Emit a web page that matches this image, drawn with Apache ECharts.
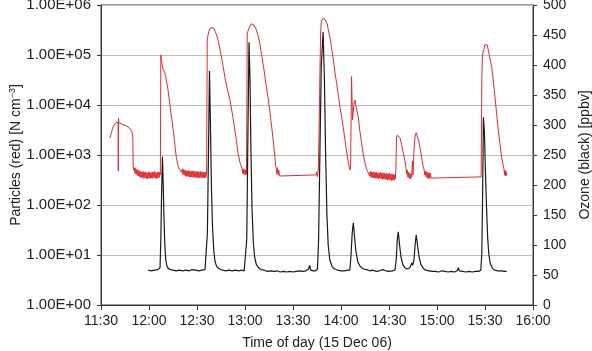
<!DOCTYPE html>
<html>
<head>
<meta charset="utf-8">
<script src="https://cdn.jsdelivr.net/npm/echarts@6/dist/echarts.min.js"></script>
<style>
html,body{margin:0;padding:0;background:#fff;}
#chart{width:592px;height:351px;}
</style>
</head>
<body>
<div id="chart"></div>
<script>
// Time axis: minutes after midnight (15 Dec 06)
const timeTicks = [690, 720, 750, 780, 810, 840, 870, 900, 930, 960];
const particleTicks = [1, 10, 100, 1000, 10000, 100000, 1000000];
const ozoneTicks = [0, 50, 100, 150, 200, 250, 300, 350, 400, 450, 500];

// Particles (red) [N cm-3]: [minute, value]
const particles = [
[695.6,2200],[696.0,2400],[696.4,2700],[696.8,3000],[697.2,3400],[697.6,3700],[698.0,3900],[698.4,4200],[698.8,4000],[699.2,4400],[699.6,4200],[700.0,4600],[700.4,4300],[700.7,4500],[700.8,480],[700.9,5400],[701.2,4400],[701.6,4700],[702.0,4300],[702.4,4600],[702.8,4200],[703.2,4500],[703.6,4100],[704.0,4400],[704.4,4000],[704.8,4300],[705.2,3900],[705.6,4200],[706.0,3800],[706.4,4100],[706.8,3700],[707.2,3900],[707.6,3500],[708.0,3700],[708.4,3300],[708.8,3400],[709.2,3000],[709.6,2600],[709.9,2200],[710.1,600],[710.4,500],
[710.8,560],[711.2,430],[711.6,540],[712.0,410],[712.4,520],[712.8,390],[713.2,500],[713.6,380],[714.0,480],[714.4,360],[714.8,470],[715.2,350],[715.6,460],[716.0,360],[716.4,470],[716.8,340],[717.2,450],[717.6,350],[718.0,460],[718.4,340],[718.8,440],[719.2,335],[719.6,450],[720.0,345],[720.4,460],[720.8,340],[721.2,440],[721.6,350],[722.0,460],[722.4,340],[722.8,450],[723.2,355],[723.6,470],[724.0,345],[724.4,440],[724.8,335],[725.2,450],[725.6,350],[726.0,460],[726.4,355],[726.8,450],[727.1,400],
[727.4,100000],[727.8,80000],[728.3,62000],[728.8,52000],[729.4,48000],[730.0,43000],[730.6,35000],[731.2,27000],[731.8,21000],[732.4,15000],[733.0,10500],[733.6,7200],[734.2,5500],[734.8,3800],[735.4,2700],[736.0,1800],[736.6,1200],[737.2,850],[737.8,680],[738.4,580],[739.0,520],[739.6,480],[740.0,510],
[740.4,450],[740.8,530],[741.2,410],[741.6,510],[742.0,395],[742.4,500],[742.8,380],[743.2,490],[743.6,370],[744.0,480],[744.4,375],[744.8,490],[745.2,365],[745.6,470],[746.0,360],[746.4,480],[746.8,365],[747.2,470],[747.6,355],[748.0,480],[748.4,365],[748.8,470],[749.2,355],[749.6,460],[750.0,350],[750.4,470],[750.8,355],[751.2,460],[751.6,350],[752.0,470],[752.4,355],[752.8,460],[753.2,350],[753.6,450],[754.0,355],[754.4,460],[754.8,345],[755.2,450],[755.6,355],[756.0,420],
[756.4,200000],[756.9,250000],[757.5,300000],[758.4,350000],[759.4,365000],[760.3,350000],[761.3,300000],[762.5,240000],[763.8,160000],[765.0,100000],[766.3,60000],[767.5,35000],[768.8,22000],[770.6,12600],[772.5,5600],[774.4,2200],[775.6,1100],[776.9,700],[778.1,540],[778.5,430],[778.9,530],[779.3,410],[779.7,510],[780.1,400],[780.5,500],[780.9,410],
[781.4,275000],[781.9,300000],[782.8,360000],[783.8,420000],[784.7,435000],[785.6,400000],[786.9,330000],[788.1,250000],[789.4,160000],[790.6,91000],[791.9,50000],[793.1,26000],[794.4,14000],[795.6,7000],[796.9,3200],[798.1,1400],[798.7,900],[799.1,620],[799.5,540],[799.9,420],[800.3,560],[800.7,400],[801.1,500],[801.5,380],[801.9,400],
[824.5,400],[824.8,460],[825.3,370],[825.8,500],[826.3,3000],[826.8,40000],[827.3,300000],[827.8,500000],[828.6,545000],[829.6,540000],[830.6,500000],[831.4,420000],[832.2,300000],[833.1,230000],[834.1,140000],[835.2,80000],[836.2,45000],[837.3,27000],[838.4,15000],[839.4,9000],[840.4,5800],[841.4,3600],[842.5,2000],[843.6,1100],[844.6,700],[845.6,500],[846.0,600],[846.6,37000],[847.2,5000],[847.6,7000],[848.2,11000],[848.75,12500],[849.5,9000],[850.8,5700],[851.8,3000],[852.9,1700],[854.0,1000],[855.0,690],[856.0,520],[857.1,440],
[857.5,480],[857.9,380],[858.3,470],[858.7,360],[859.1,460],[859.5,350],[859.9,450],[860.3,355],[860.7,460],[861.1,345],[861.5,440],[861.9,340],[862.3,450],[862.7,345],[863.1,440],[863.5,335],[863.9,430],[864.3,345],[864.7,450],[865.1,335],[865.5,430],[865.9,325],[866.3,440],[866.7,335],[867.1,430],[867.5,325],[867.9,420],[868.3,325],[868.7,430],[869.1,315],[869.5,420],[869.9,325],[870.3,430],[870.7,315],[871.1,410],[871.5,310],[871.9,420],[872.3,315],[872.7,410],[873.1,310],[873.5,400],[873.9,330],
[874.3,500],[874.7,2200],[875.2,2500],[876.0,2400],[876.9,2200],[877.9,1600],[878.9,1100],[880.0,750],[880.6,560],[881.0,420],[881.4,500],[881.8,360],[882.2,450],[882.6,340],[883.0,430],[883.4,330],[883.8,420],[884.2,360],[884.6,750],[885.0,400],[885.6,1200],[886.3,2400],[887.0,2800],[887.6,2600],[888.4,2000],[889.4,1400],[890.4,900],[891.4,580],[891.9,520],[892.3,400],[892.7,480],[893.1,370],[893.5,460],[893.9,350],[894.3,450],[894.7,340],[895.1,440],[895.5,340],[895.9,430],[896.3,345],[896.7,370],
[927.6,365],[927.9,380],[928.0,32000],[928.4,100000],[928.8,95000],[929.3,130000],[929.9,160000],[930.6,172000],[931.3,160000],[932.1,125000],[933.1,85000],[934.2,58000],[935.2,30000],[936.25,14500],[937.3,6500],[938.3,3200],[939.3,1700],[940.4,900],[941.4,600],[941.9,520],[942.2,400],[942.5,500],[942.8,380],[943.1,470],[943.4,390],[943.6,440]
];

// Ozone (black) [ppbv]: [minute, value]
const ozone = [
[719.4,58],[720.5,59],[721.5,57],[722.5,59],[723.5,58],[724.5,57],[725.5,59],[726.3,58],[726.9,62],[727.4,110],[727.9,190],[728.4,247],[728.9,200],[729.4,140],[729.9,100],[730.5,75],[731.2,65],[732,61],[733.5,59],[735,58],[737,57],[739,58],[741,57],[743,58],[745,57],[747,59],[749,58],[751,57],[753,58],[755,59],[755.8,62],[756.5,120],[757.2,260],[757.8,390],[758.4,300],[759,200],[759.7,130],[760.5,90],[761.3,72],[762.3,64],[764,60],[766,58],[768,57],[770,58],[772,57],[774,58],[776,57],[778,58],[779.5,57],[780.4,60],[781.1,110],[781.8,280],[782.5,438],[783.1,380],[783.7,260],[784.4,160],[785.2,105],[786,80],[787,68],[788.5,62],[790,59],[792,58],[794,56],[796,57],[798,56],[800,57],[802,55],[804,56],[806,55],[808,56],[810,55],[812,56],[814,57],[816,56],[818,57],[819.7,60],[820.4,66],[821.1,58],[822.5,57],[824,57],[825.3,60],[826,110],[826.8,250],[827.7,400],[828.8,455],[829.6,380],[830.4,250],[831.2,150],[832,100],[833,75],[834.5,64],[836,60],[838,58],[840,57],[842,57],[844,58],[845.5,58],[846.2,80],[847,120],[847.7,137],[848.4,115],[849.3,90],[850.5,72],[852,64],[854,60],[856,59],[858,57],[860,58],[862,56],[864,57],[866,59],[868,57],[870,56],[872,57],[873.7,58],[874.5,75],[875.2,110],[875.8,122],[876.6,100],[877.5,80],[878.7,67],[880,62],[881.5,60],[883,62],[883.8,65],[884.3,70],[884.8,66],[885.6,75],[886.3,100],[887,117],[887.8,100],[888.8,80],[890,67],[891.5,61],[893,58],[895,57],[897,56],[899,56],[901,55],[903,57],[905,56],[907,55],[909,56],[911,55],[912.6,57],[913.3,62],[914,57],[916,56],[918,55],[920,56],[922,55],[924,56],[926,56],[927.4,58],[928,85],[928.5,180],[929,313],[929.6,290],[930.3,220],[931,160],[931.7,110],[932.4,85],[933.2,70],[934.5,62],[936,58],[938,57],[940,57],[942,56],[943.6,56]
];

const FONT = '"Liberation Sans", Arial, Helvetica, sans-serif';
const TXT = '#222';
const AX = '#3a3a3a';

function fmtTime(v) {
  const h = Math.floor(v / 60), m = Math.round(v % 60);
  return h + ':' + (m < 10 ? '0' : '') + m;
}
function fmtExp(v) {
  const e = Math.round(Math.log10(v));
  return '1.00E+' + (e < 10 ? '0' : '') + e;
}

const chart = echarts.init(document.getElementById('chart'), null, {renderer: 'canvas'});
chart.setOption({
  animation: false,
  backgroundColor: '#fff',
  grid: {left: 101, right: 59, top: 5, bottom: 46, containLabel: false, outerBoundsMode: 'none',
         show: true, borderColor: AX, borderWidth: 1, backgroundColor: 'transparent'},
  xAxis: {
    type: 'value',
    min: timeTicks[0], max: timeTicks[timeTicks.length - 1], interval: 30,
    name: 'Time of day (15 Dec 06)', nameLocation: 'middle', nameGap: 31, nameMoveOverlap: false,
    nameTextStyle: {fontFamily: FONT, fontSize: 14, color: TXT},
    axisLine: {show: true, lineStyle: {color: AX, width: 1}},
    axisTick: {show: true, length: 5, inside: false, lineStyle: {color: AX}},
    axisLabel: {formatter: fmtTime, fontFamily: FONT, fontSize: 14, color: TXT, margin: 9},
    splitLine: {show: false}
  },
  yAxis: [
    {
      type: 'log', logBase: 10,
      min: particleTicks[0], max: particleTicks[particleTicks.length - 1], splitNumber: 6,
      position: 'left',
      name: '{a|Particles (red) [N cm}{s|−3}{a|]}', nameLocation: 'middle', nameGap: 76, nameRotate: 90,
      nameMoveOverlap: false,
      nameTextStyle: {fontFamily: FONT, fontSize: 14, color: TXT,
        rich: {a: {fontFamily: FONT, fontSize: 14, color: TXT}, s: {fontFamily: FONT, fontSize: 9, color: TXT, padding: [0, 0, 8, 0]}}},
      axisLine: {show: true, lineStyle: {color: AX, width: 1}},
      axisTick: {show: true, length: 4, inside: false, lineStyle: {color: AX}},
      axisLabel: {formatter: fmtExp, fontFamily: FONT, fontSize: 15, color: TXT, margin: 10},
      splitLine: {show: true, lineStyle: {color: '#bdbdbd', width: 1}},
      minorTick: {show: false}
    },
    {
      type: 'value',
      min: ozoneTicks[0], max: ozoneTicks[ozoneTicks.length - 1], interval: 50,
      position: 'right',
      name: 'Ozone (black) [ppbv]', nameLocation: 'middle', nameGap: 45, nameRotate: 90,
      nameMoveOverlap: false,
      nameTextStyle: {fontFamily: FONT, fontSize: 14, color: TXT},
      axisLine: {show: true, lineStyle: {color: AX, width: 1}},
      axisTick: {show: true, length: 4, inside: false, lineStyle: {color: AX}},
      axisLabel: {fontFamily: FONT, fontSize: 14, color: TXT, margin: 10},
      splitLine: {show: false}
    }
  ],
  series: [
    {
      name: 'Particles', type: 'line', yAxisIndex: 0, data: particles,
      showSymbol: false, symbol: 'none', smooth: false,
      lineStyle: {color: '#e52a2f', width: 1}, z: 3
    },
    {
      name: 'Ozone', type: 'line', yAxisIndex: 1, data: ozone,
      showSymbol: false, symbol: 'none', smooth: false,
      lineStyle: {color: '#1a1a1a', width: 1.2}, z: 4
    }
  ]
});
</script>
</body>
</html>
